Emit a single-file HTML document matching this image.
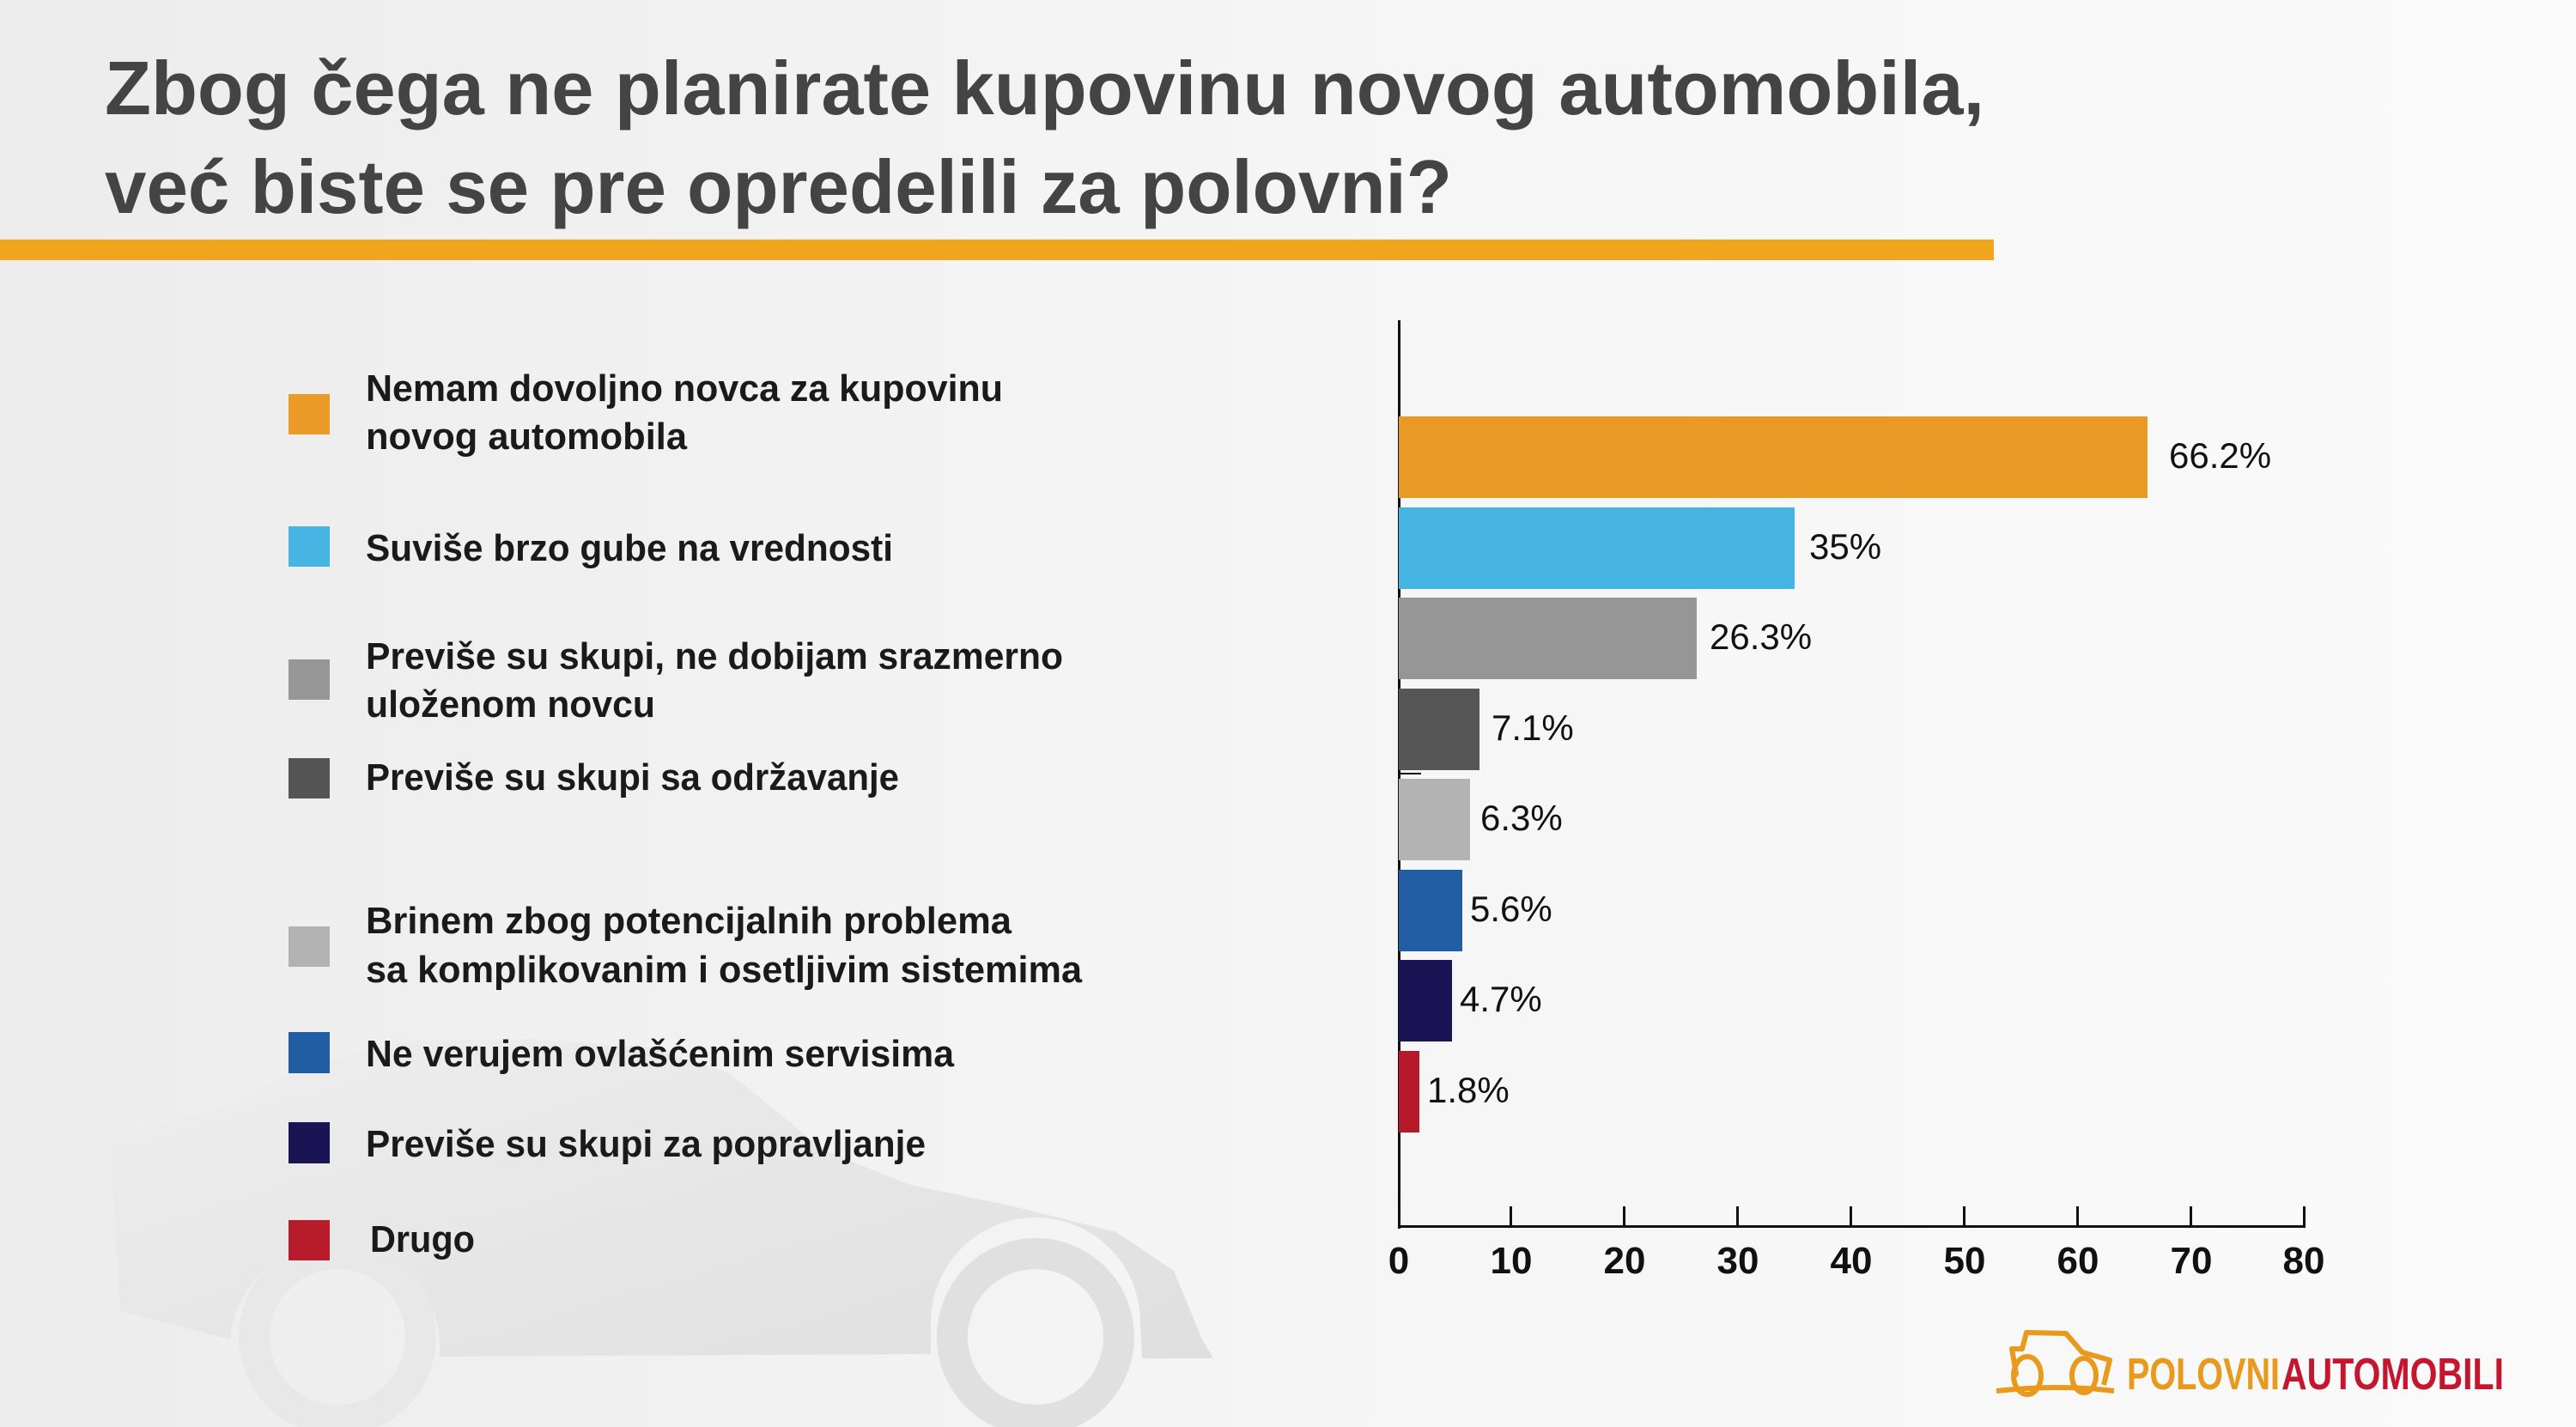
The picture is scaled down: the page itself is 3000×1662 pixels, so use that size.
<!DOCTYPE html>
<html><head><meta charset="utf-8"><style>
html,body{margin:0;padding:0;}
body{width:3000px;height:1662px;overflow:hidden;}
svg{display:block;}
</style></head><body>
<svg width="3000" height="1662" viewBox="0 0 3000 1662" xmlns="http://www.w3.org/2000/svg" font-family="'Liberation Sans', sans-serif">
<defs>
<linearGradient id="bg" x1="0" y1="0" x2="1" y2="0">
<stop offset="0" stop-color="#ececec"/><stop offset="0.5" stop-color="#f5f5f5"/><stop offset="1" stop-color="#fafafa"/>
</linearGradient>
<linearGradient id="car" x1="0" y1="0" x2="1" y2="1">
<stop offset="0" stop-color="#eeeeee"/><stop offset="1" stop-color="#dfdfdf"/>
</linearGradient>
</defs>
<rect width="3000" height="1662" fill="url(#bg)"/>
<path d="M128 1330 L150 1320 L260 1290 L360 1240 L480 1212 L620 1210 L760 1220 L850 1250 L960 1340 L1060 1380 L1180 1405 L1300 1435 L1367 1480 L1400 1560 L1413 1582 L1330 1582 L1328 1540 A122 122 0 0 0 1084 1540 L1084 1577 L512 1580 A122 122 0 0 0 268 1560 L268 1560 L140 1527 Z" fill="url(#car)"/>
<circle cx="393" cy="1557" r="97" fill="none" stroke="#e8e8e8" stroke-width="36"/>
<circle cx="1206" cy="1557" r="97" fill="none" stroke="#e0e0e0" stroke-width="36"/>
<text x="122" y="133" font-size="88" font-weight="bold" fill="#444" textLength="2189" lengthAdjust="spacingAndGlyphs">Zbog čega ne planirate kupovinu novog automobila,</text>
<text x="122" y="248" font-size="88" font-weight="bold" fill="#444" textLength="1569" lengthAdjust="spacingAndGlyphs">već biste se pre opredelili za polovni?</text>
<rect x="0" y="279" width="2322" height="24" fill="#f1a41d"/>
<g font-size="44" font-weight="bold" fill="#1a1a1a">
<rect x="336" y="459" width="48" height="47" fill="#ea9a27"/>
<text x="426" y="467" textLength="742" lengthAdjust="spacingAndGlyphs">Nemam dovoljno novca za kupovinu</text>
<text x="426" y="523" textLength="374" lengthAdjust="spacingAndGlyphs">novog automobila</text>
<rect x="336" y="613" width="48" height="47" fill="#47b4e3"/>
<text x="426" y="653" textLength="614" lengthAdjust="spacingAndGlyphs">Suviše brzo gube na vrednosti</text>
<rect x="336" y="768" width="48" height="47" fill="#979797"/>
<text x="426" y="779" textLength="812" lengthAdjust="spacingAndGlyphs">Previše su skupi, ne dobijam srazmerno</text>
<text x="426" y="835" textLength="337" lengthAdjust="spacingAndGlyphs">uloženom novcu</text>
<rect x="336" y="883" width="48" height="47" fill="#555555"/>
<text x="426" y="920" textLength="621" lengthAdjust="spacingAndGlyphs">Previše su skupi sa održavanje</text>
<rect x="336" y="1079" width="48" height="47" fill="#b2b2b2"/>
<text x="426" y="1087" textLength="752" lengthAdjust="spacingAndGlyphs">Brinem zbog potencijalnih problema</text>
<text x="426" y="1144" textLength="834" lengthAdjust="spacingAndGlyphs">sa komplikovanim i osetljivim sistemima</text>
<rect x="336" y="1202" width="48" height="48" fill="#215da3"/>
<text x="426" y="1242" textLength="685" lengthAdjust="spacingAndGlyphs">Ne verujem ovlašćenim servisima</text>
<rect x="336" y="1307" width="48" height="48" fill="#1a1454"/>
<text x="426" y="1347" textLength="652" lengthAdjust="spacingAndGlyphs">Previše su skupi za popravljanje</text>
<rect x="336" y="1421" width="48" height="47" fill="#b81b2a"/>
<text x="431" y="1458" textLength="122" lengthAdjust="spacingAndGlyphs">Drugo</text>
</g>
<rect x="1628" y="373" width="3" height="1058" fill="#111"/>
<rect x="1628" y="1427" width="1057" height="3" fill="#111"/>
<rect x="1628" y="900" width="27" height="2" fill="#111"/>
<g fill="#111">
<rect x="1758" y="1405" width="3" height="24"/><rect x="1890" y="1405" width="3" height="24"/>
<rect x="2022" y="1405" width="3" height="24"/><rect x="2154" y="1405" width="3" height="24"/>
<rect x="2286" y="1405" width="3" height="24"/><rect x="2418" y="1405" width="3" height="24"/>
<rect x="2550" y="1405" width="3" height="24"/><rect x="2682" y="1405" width="3" height="24"/>
</g>
<g font-size="44" font-weight="bold" fill="#111" text-anchor="middle">
<text x="1629" y="1483">0</text><text x="1760" y="1483">10</text><text x="1892" y="1483">20</text>
<text x="2024" y="1483">30</text><text x="2156" y="1483">40</text><text x="2288" y="1483">50</text>
<text x="2420" y="1483">60</text><text x="2552" y="1483">70</text><text x="2683" y="1483">80</text>
</g>
<rect x="1629" y="485" width="872" height="95" fill="#e99a25"/>
<rect x="1629" y="591" width="461" height="95" fill="#46b4e3"/>
<rect x="1629" y="696" width="347" height="95" fill="#969696"/>
<rect x="1629" y="802" width="94" height="95" fill="#565656"/>
<rect x="1629" y="907" width="83" height="95" fill="#b3b3b3"/>
<rect x="1629" y="1013" width="74" height="95" fill="#225ea4"/>
<rect x="1629" y="1118" width="62" height="95" fill="#1a1454"/>
<rect x="1629" y="1224" width="24" height="95" fill="#b61a2a"/>
<g font-size="42" fill="#111">
<text x="2526" y="545">66.2%</text>
<text x="2107" y="651">35%</text>
<text x="1991" y="756">26.3%</text>
<text x="1737" y="862">7.1%</text>
<text x="1724" y="967">6.3%</text>
<text x="1712" y="1073">5.6%</text>
<text x="1700" y="1178">4.7%</text>
<text x="1662" y="1284">1.8%</text>
</g>
<g fill="none" stroke="#e99a1d" stroke-width="6" stroke-linejoin="round">
<path d="M2344 1605 L2348 1600 L2343 1571 L2355 1571 L2360 1552 L2406 1553 L2425 1575 L2457 1584 L2450 1613"/>
<ellipse cx="2361" cy="1602" rx="16" ry="22"/>
<ellipse cx="2427" cy="1602" rx="14" ry="20"/>
<path d="M2325 1620 Q2400 1612 2462 1620"/>
</g>
<text x="2477" y="1618" font-size="52" font-weight="bold" fill="#e99a1d" textLength="178" lengthAdjust="spacingAndGlyphs">POLOVNI</text>
<text x="2657" y="1618" font-size="52" font-weight="bold" fill="#c4172f" textLength="259" lengthAdjust="spacingAndGlyphs">AUTOMOBILI</text>
</svg>
</body></html>
